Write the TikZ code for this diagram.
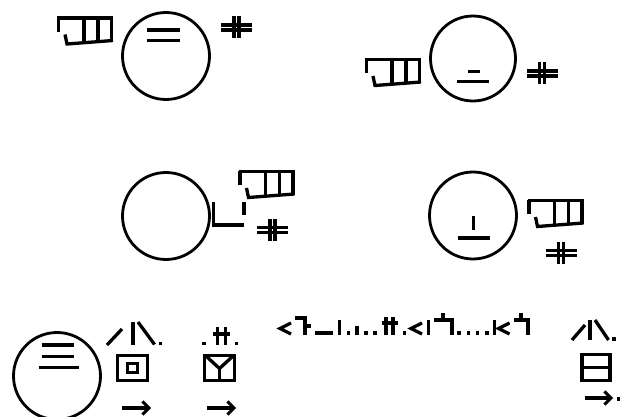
\documentclass[tikz,border=0pt]{standalone}
\usetikzlibrary{arrows.meta}
\begin{document}
\begin{tikzpicture}[x=1pt,y=-1pt,
  gl/.style={line width=3.3pt,line join=miter},
  thin gl/.style={line width=2.2pt},
  ring/.style={circle,draw,line width=2.8pt,inner sep=0pt,minimum size=87pt},
  arr/.style={line width=3.2pt,-{Straight Barb[length=6.5pt,width=13pt,line width=3pt]}},
  hand/.pic={
    \draw[gl] (0,0) -- (56,0);
    \draw[gl] (1.5,0) -- (1.5,14);
    \draw[gl] (8,16.5) -- (10,26) -- (56,22.5);
    \draw[gl] (27,0) -- (27,24.5);
    \draw[gl] (41,0) -- (41,24);
    \draw[gl] (54.5,0) -- (54.5,23.5);
  },
  contact/.pic={
    \draw[gl] (-2.5,-11) -- (-2.5,11);
    \draw[gl] (2.5,-11) -- (2.5,11);
    \draw[gl] (-15.5,-2.5) -- (15.5,-2.5);
    \draw[gl] (-15.5,2.5) -- (15.5,2.5);
  },
  dot/.pic={\fill (-1.8,-1.8) rectangle (1.8,1.8);},
  lt/.pic={\draw[gl] (11,-5.5) -- (0,0) -- (11,5.5);}
]
\useasboundingbox (0,0) rectangle (622,417);

% ---- group 1 (top left)
\node[ring] (c1) at (166,56) {};
\draw[gl] (147,30) -- (180,30);
\draw[gl] (147,40.5) -- (180,40.5);
\pic at (57,18) {hand};
\pic at (236.5,27.5) {contact};

% ---- group 2 (top right)
\node[ring,minimum size=85pt] (c2) at (473,58.5) {};
\draw[gl] (468,71.5) -- (480,71.5);
\draw[gl] (457,81.5) -- (489,81.5);
\pic at (365,59.5) {hand};
\pic at (542,73.5) {contact};

% ---- group 3 (middle left)
\node[ring] (c3) at (166,216) {};
\draw[gl] (213.5,202) -- (213.5,225) -- (244,225);
\draw[gl] (244,202) -- (244,215);
\pic at (238.5,171.5) {hand};
\pic at (272.5,230) {contact};

% ---- group 4 (middle right)
\node[ring] (c4) at (473,215.5) {};
\draw[gl] (473.5,216.5) -- (473.5,230);
\draw[gl] (458,238) -- (490,238);
\pic at (527.5,200.5) {hand};
\pic at (561,253) {contact};

% ---- bottom row
\node[ring] (c5) at (57,376) {};
\draw[gl] (41.5,345) -- (73.5,345);
\draw[gl] (41.5,356.5) -- (73.5,356.5);
\draw[thin gl] (38.5,367.5) -- (78.5,367.5);

% glyph A
\draw[gl] (107,345) -- (122,329);
\draw[gl] (133,322) -- (133,344.5);
\draw[gl] (138,322) -- (154.5,344.5);
\pic at (160.5,343.5) {dot};
\draw[gl] (117.5,355.5) rectangle (147.5,380.5);
\draw[gl] (127.5,363.5) rectangle (137.5,372.5);
\coordinate (a1s) at (122,408);
\coordinate (a1e) at (151,408);
\draw[arr] (a1s) -- (a1e);

% glyph B
\pic at (204,343.5) {dot};
\pic at (236.5,343.5) {dot};
\draw[gl] (217.5,327) -- (217.5,345);
\draw[gl] (225.5,327) -- (225.5,345);
\draw[gl] (213,334) -- (230,334);
\draw[gl] (204.5,355.5) rectangle (234.5,380.5);
\draw[gl] (206.5,356.5) -- (219.5,368.5) -- (232.5,356.5);
\draw[gl] (219.5,368.5) -- (219.5,380);
\coordinate (a2s) at (207,408);
\coordinate (a2e) at (236,408);
\draw[arr] (a2s) -- (a2e);

% text row
\pic at (280,328.5) {lt};
\draw[gl] (295,318) -- (305,318) -- (305,334.5);
\draw[gl] (305,326) -- (311,326);
\draw[gl] (315,333) -- (333,333);
\draw[gl] (339.5,320) -- (339.5,334.5);
\pic at (348.3,333) {dot};
\draw[gl] (357,326) -- (357,334.5);
\pic at (365.7,333) {dot};
\pic at (374.9,333) {dot};
\draw[gl] (386,317) -- (386,334.5);
\draw[gl] (393,317) -- (393,334.5);
\draw[gl] (381.6,323) -- (397.6,323);
\pic at (404.3,333) {dot};
\pic at (411,328.5) {lt};
\draw[gl] (428.2,320) -- (428.2,334.5);
\draw[gl] (443,313) -- (443,320);
\draw[gl] (434.4,320) -- (452,320) -- (452,334.5);
\pic at (459.1,333) {dot};
\pic at (468.3,333) {dot};
\pic at (477.5,333) {dot};
\pic at (486.7,333) {dot};
\draw[gl] (494.5,320) -- (494.5,334.5);
\pic at (498.5,328.5) {lt};
\draw[gl] (521,313) -- (521,320);
\draw[gl] (513.6,320) -- (528,320) -- (528,334.5);

% glyph C
\draw[gl] (572,340) -- (585,325);
\draw[gl] (590,320) -- (590,340);
\draw[gl] (595,320) -- (608.5,340);
\pic at (614,339) {dot};
\draw[gl] (582,354.5) rectangle (610,380.5);
\draw[gl] (582,367.5) -- (610,367.5);
\coordinate (a3s) at (585,398);
\coordinate (a3e) at (613,398);
\draw[arr] (a3s) -- (a3e);
\pic at (618.5,399) {dot};
\end{tikzpicture}
\end{document}
